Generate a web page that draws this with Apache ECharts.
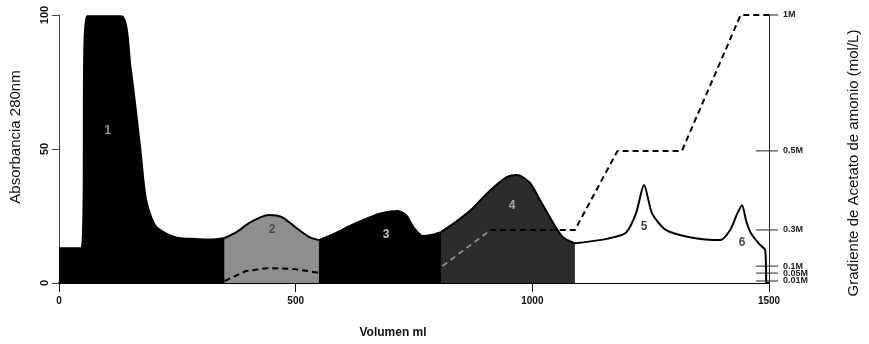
<!DOCTYPE html>
<html>
<head>
<meta charset="utf-8">
<script src="https://cdn.jsdelivr.net/npm/echarts@6/dist/echarts.min.js"></script>
<style>
  html, body { margin: 0; padding: 0; background: #fff; }
  #chart { width: 869px; height: 344px; }
</style>
</head>
<body>
<div id="chart"></div>
<script>
// Elution profile: absorbance at 280 nm against eluted volume (ml)
const volume = [0, 46, 59, 132, 151, 172, 184, 205, 247, 289, 320, 350, 375, 402, 425, 444, 471, 499, 528, 549,
  580, 618, 650, 681, 716, 733, 750, 769, 786, 807, 840, 870, 912, 947, 968, 995, 1016, 1044, 1064, 1090,
  1142, 1175, 1198, 1219, 1236, 1253, 1282, 1330, 1397, 1418, 1432, 1443, 1452, 1462, 1481, 1492, 1494];
const absorbance = [13, 13, 99.5, 99.5, 80.6, 49.6, 31, 21, 17, 16.4, 16.2, 16.8, 19, 22.4, 24.5, 25.4, 24.6, 20.9, 17.2, 16,
  18.2, 21.6, 24, 26, 26.9, 25.4, 20.5, 17.5, 17.9, 19, 23, 27.2, 34.7, 39.6, 40.3, 37.3, 31, 22.4, 17.2, 14.8,
  16, 17.2, 18.8, 26, 36.6, 26, 19.8, 17.2, 16, 19.8, 25.5, 29, 23, 18.6, 14.2, 12.3, 0];

// Fraction windows (ml) and their fill
const fractionNames = ['1', '2', '3', '4', '5/6'];
const fractionStart = [0, 350, 549, 807, 1090];
const fractionEnd = [350, 549, 807, 1090, 1500];
const fractionFill = ['#000000', '#8e8e8e', '#000000', '#2c2c2c', '#ffffff'];

// Peak labels
const peakText = ['1', '2', '3', '4', '5', '6'];
const peakVolume = [103, 450, 691, 957, 1236, 1443];
const peakAbs = [57, 19.8, 17.9, 29, 21, 15];
const peakColor = ['#b8b8b8', '#3a3a3a', '#f2f2f2', '#c8c8c8', '#111', '#111'];

// Ammonium acetate gradient (mol/L) against volume
const gradVolume = [350, 395, 440, 495, 545, 810, 912, 1090, 1180, 1316, 1440, 1500];
const gradConc = [0.01, 0.065, 0.085, 0.08, 0.055, 0.1, 0.3, 0.3, 0.5, 0.5, 1, 1];

// Right-hand gradient axis: tick labels, their concentrations and
// where each one sits on the absorbance scale (the axis is piecewise)
const gradTickLabels = ['1M', '0.5M', '0.3M', '0.1M', '0.05M', '0.01M'];
const gradTickConc = [1, 0.5, 0.3, 0.1, 0.05, 0.01];
const gradTickAbs = [100, 49.3, 19.8, 6.3, 3.7, 0.75];

// Axis ticks
const xTicks = [0, 500, 1000, 1500];
const yTicks = [0, 50, 100];

function concToAxis(c) {
  const cs = gradTickConc.slice().reverse();
  const ps = gradTickAbs.slice().reverse();
  if (c <= cs[0]) return ps[0] * c / cs[0];
  for (let i = 1; i < cs.length; i++) {
    if (c <= cs[i]) {
      const t = (c - cs[i - 1]) / (cs[i] - cs[i - 1]);
      return ps[i - 1] + t * (ps[i] - ps[i - 1]);
    }
  }
  return ps[ps.length - 1];
}

const profile = volume.map((v, i) => [v, absorbance[i]]);
const gradient = gradVolume.map((v, i) => [v, concToAxis(gradConc[i])]);

const FONT = 'Liberation Sans, Arial, sans-serif';

const fractionSeries = fractionNames.map((name, k) => ({
  name: 'Fracción ' + name,
  type: 'line',
  data: profile.filter(p => p[0] >= fractionStart[k] && p[0] <= fractionEnd[k]),
  smooth: 0.25,
  symbol: 'none',
  lineStyle: { color: '#000', width: 2 },
  areaStyle: { color: fractionFill[k], opacity: 1 },
  z: 2
}));

const gradientSeries = {
  name: 'Gradiente',
  type: 'line',
  data: gradient,
  symbol: 'none',
  lineStyle: { color: '#000', width: 2, type: [6, 4] },
  z: 4
};

// Over fraction 4 the gradient trace shows up as a light grey dash
const gradientOverFraction4 = {
  name: 'Gradiente (fracción 4)',
  type: 'line',
  data: gradient.filter(p => p[0] >= fractionStart[3] && p[0] < fractionEnd[3]),
  symbol: 'none',
  lineStyle: { color: '#8a8a8a', width: 2, type: [6, 4] },
  z: 5
};

const peakSeries = {
  name: 'Picos',
  type: 'scatter',
  symbolSize: 0,
  data: peakText.map((t, i) => ({
    value: [peakVolume[i], peakAbs[i]],
    label: { show: true, formatter: t, color: peakColor[i] }
  })),
  label: { fontFamily: FONT, fontSize: 12, fontWeight: 'bold', position: 'inside' },
  z: 6
};

// Gradient axis ticks and labels, placed through the chart's own scale
const gradAxisSeries = {
  name: 'Eje gradiente',
  type: 'custom',
  data: gradTickLabels.map((l, i) => [1500, gradTickAbs[i]]),
  clip: false,
  renderItem(params, api) {
    const p = api.coord([api.value(0), api.value(1)]);
    const i = params.dataIndex;
    const left = i === 0 ? 0 : 13;
    return {
      type: 'group',
      children: [
        { type: 'line', shape: { x1: p[0] - left, y1: p[1], x2: p[0] + 9, y2: p[1] },
          style: { stroke: '#222', lineWidth: 1 } },
        { type: 'text', x: p[0] + 14, y: p[1],
          style: { text: gradTickLabels[i], fill: '#222', font: 'bold 9px ' + FONT,
                   textVerticalAlign: 'middle', textAlign: 'left' } }
      ]
    };
  },
  z: 7
};

const chart = echarts.init(document.getElementById('chart'));
chart.setOption({
  backgroundColor: '#fff',
  animation: false,
  grid: { left: 55, right: 97, top: 15, bottom: 61 },
  xAxis: {
    type: 'value', min: 0, max: 1500, interval: 500,
    name: 'Volumen ml', nameLocation: 'middle', nameGap: 44,
    nameTextStyle: { fontFamily: FONT, fontSize: 12, fontWeight: 'bold', color: '#111', padding: [0, 42, 0, 0] },
    axisLine: { lineStyle: { color: '#000', width: 2 } },
    axisTick: { length: 9, lineStyle: { color: '#111' } },
    axisLabel: { fontFamily: FONT, fontSize: 10, fontWeight: 'bold', color: '#111', margin: 13,
                 customValues: xTicks, formatter: v => String(v) },
    splitLine: { show: false }
  },
  yAxis: [{
    type: 'value', min: 0, max: 100, interval: 50,
    name: 'Absorbancia 280nm', nameLocation: 'middle', nameGap: 36, nameRotate: 90,
    nameTextStyle: { fontFamily: FONT, fontSize: 15, color: '#111', padding: [0, 0, 0, 24] },
    axisLine: { show: true, lineStyle: { color: '#444', width: 1 } },
    axisTick: { length: 7, lineStyle: { color: '#444' } },
    axisLabel: { fontFamily: FONT, fontSize: 11, fontWeight: 'bold', color: '#111', rotate: 90, margin: 9,
                 customValues: yTicks, formatter: v => String(v) },
    splitLine: { show: false }
  }, {
    type: 'value', min: 0, max: 100, position: 'right',
    name: 'Gradiente de Acetato de amonio (mol/L)', nameLocation: 'middle', nameGap: 77, nameRotate: 90,
    nameTextStyle: { fontFamily: FONT, fontSize: 15, color: '#111', padding: [0, 28, 0, 0] },
    axisLine: { show: true, lineStyle: { color: '#222', width: 1 } },
    axisTick: { show: false },
    axisLabel: { show: false },
    splitLine: { show: false }
  }],
  series: [...fractionSeries, gradientSeries, gradientOverFraction4, peakSeries, gradAxisSeries]
});
</script>
</body>
</html>
